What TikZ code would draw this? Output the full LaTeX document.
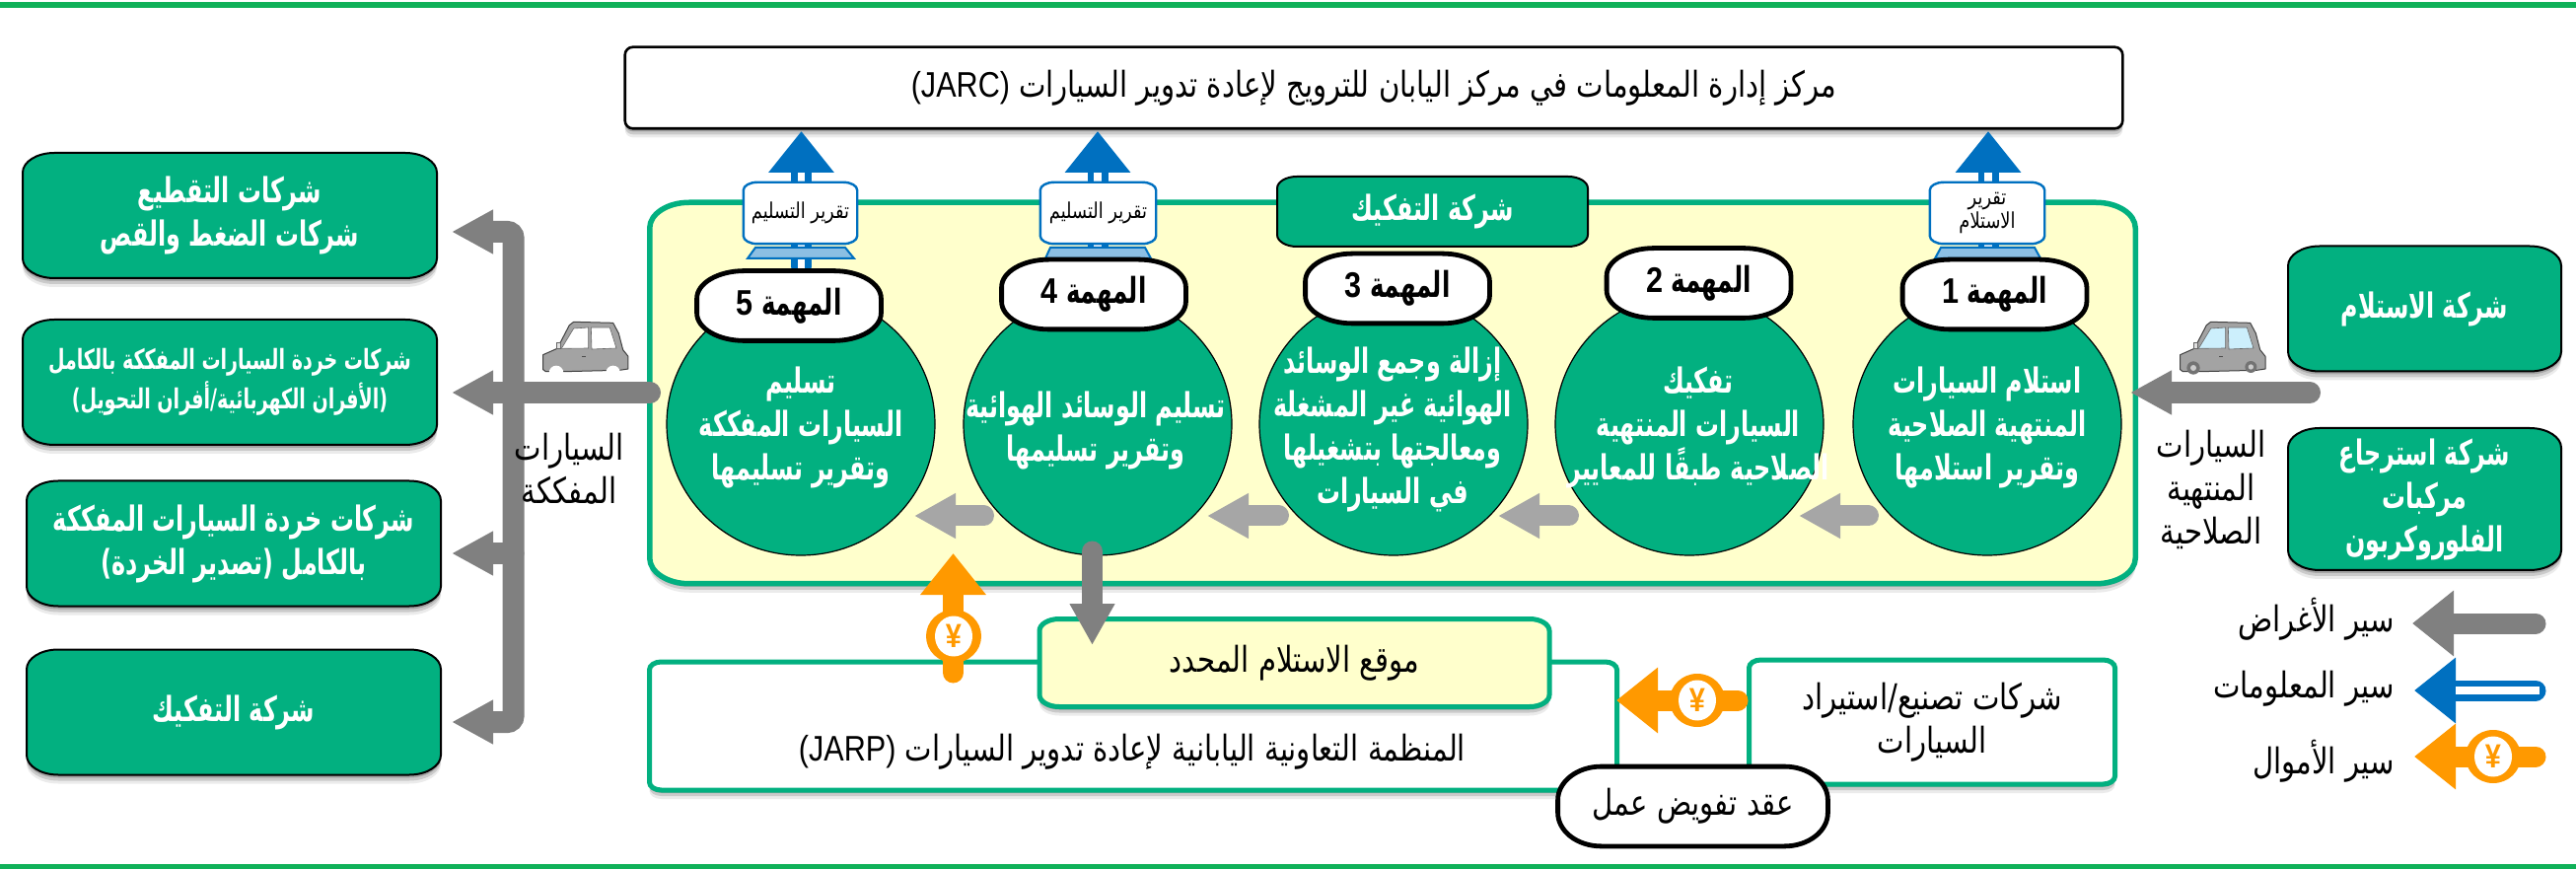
\documentclass[tikz,border=0pt]{standalone}
\usepackage{fontspec}
\usetikzlibrary{arrows.meta,shapes.geometric,shadows}
\TeXXeTstate=1
\newfontfamily\arr[Script=Arabic,FakeStretch=0.81]{DejaVu Sans}
\newfontfamily\arb[Script=Arabic,FakeStretch=0.68]{DejaVu Sans Bold}
\newfontfamily\latr[FakeStretch=0.85]{Liberation Sans}
\newfontfamily\latb[FakeStretch=0.85]{Liberation Sans Bold}
\newcommand\rtl[1]{\beginR #1\endR}
\definecolor{gfill}{HTML}{02B080}
\definecolor{topline}{HTML}{10B159}
\definecolor{pale}{HTML}{FFFFCC}
\definecolor{flowblue}{HTML}{0070C0}
\definecolor{flowor}{HTML}{FF9900}
\definecolor{flowgray}{HTML}{808080}
\definecolor{flowlight}{HTML}{A6A6A6}
\newdimen\ebrx \newdimen\ebry \newdimen\ebL \newdimen\ebR \newdimen\ebT \newdimen\ebB
\makeatletter
\pgfdeclareshape{ebox}{
  \inheritsavedanchors[from=rectangle]
  \inheritanchorborder[from=rectangle]
  \inheritanchor[from=rectangle]{center}
  \inheritanchor[from=rectangle]{mid}
  \inheritanchor[from=rectangle]{base}
  \inheritanchor[from=rectangle]{north}
  \inheritanchor[from=rectangle]{south}
  \inheritanchor[from=rectangle]{east}
  \inheritanchor[from=rectangle]{west}
  \inheritanchor[from=rectangle]{north east}
  \inheritanchor[from=rectangle]{north west}
  \inheritanchor[from=rectangle]{south east}
  \inheritanchor[from=rectangle]{south west}
  \backgroundpath{
    \southwest \ebL=\pgf@x \ebB=\pgf@y
    \northeast \ebR=\pgf@x \ebT=\pgf@y
    \pgfpathmoveto{\pgfqpoint{\dimexpr\ebL+\ebrx}{\ebB}}
    \pgfpathlineto{\pgfqpoint{\dimexpr\ebR-\ebrx}{\ebB}}
    \pgfpathcurveto{\pgfqpoint{\dimexpr\ebR-0.4477\ebrx}{\ebB}}{\pgfqpoint{\ebR}{\dimexpr\ebB+0.4477\ebry}}{\pgfqpoint{\ebR}{\dimexpr\ebB+\ebry}}
    \pgfpathlineto{\pgfqpoint{\ebR}{\dimexpr\ebT-\ebry}}
    \pgfpathcurveto{\pgfqpoint{\ebR}{\dimexpr\ebT-0.4477\ebry}}{\pgfqpoint{\dimexpr\ebR-0.4477\ebrx}{\ebT}}{\pgfqpoint{\dimexpr\ebR-\ebrx}{\ebT}}
    \pgfpathlineto{\pgfqpoint{\dimexpr\ebL+\ebrx}{\ebT}}
    \pgfpathcurveto{\pgfqpoint{\dimexpr\ebL+0.4477\ebrx}{\ebT}}{\pgfqpoint{\ebL}{\dimexpr\ebT-0.4477\ebry}}{\pgfqpoint{\ebL}{\dimexpr\ebT-\ebry}}
    \pgfpathlineto{\pgfqpoint{\ebL}{\dimexpr\ebB+\ebry}}
    \pgfpathcurveto{\pgfqpoint{\ebL}{\dimexpr\ebB+0.4477\ebry}}{\pgfqpoint{\dimexpr\ebL+0.4477\ebrx}{\ebB}}{\pgfqpoint{\dimexpr\ebL+\ebrx}{\ebB}}
    \pgfpathclose
  }
}
\makeatother
\tikzset{
  ec/.code 2 args={\ebrx=#1pt \ebry=#2pt \pgfkeysalso{shape=ebox}},
  sh/.style={general shadow={shadow xshift=0pt,shadow yshift=-1.5pt,fill=black,opacity=.18},
             general shadow={shadow xshift=0pt,shadow yshift=-3pt,fill=black,opacity=.14},
             general shadow={shadow xshift=0pt,shadow yshift=-4.5pt,fill=black,opacity=.08}},
  wbig/.style={font=\fontsize{17.5}{22}\arb,text=white,align=center,inner sep=0pt},
  blk/.style={font=\fontsize{18}{22}\arr,text=black,align=center},
  gboxplain/.style={draw=black,line width=1pt,fill=gfill,ec={16}{10},inner sep=0pt,wbig,minimum width=209pt,minimum height=62.5pt},
  gbox/.style={gboxplain,sh},
  wbox/.style={draw=gfill,line width=2.5pt,fill=white,ec={6}{4},sh,inner sep=0pt,blk},
  disc/.style={ellipse,draw=black,line width=.6pt,fill=gfill,minimum width=136pt,minimum height=133pt,inner sep=0pt},
  tasklabel/.style={draw=black,line width=2.4pt,fill=white,ec={24}{14},minimum width=91pt,minimum height=33pt,inner sep=0pt,font=\fontsize{18}{20}\arb,text=black},
  report/.style={draw=flowblue,line width=1.2pt,fill=white,ec={7}{4},minimum height=30pt,inner sep=0pt,font=\fontsize{11}{12}\arr,align=center},
  stand/.style={draw=flowblue,line width=1pt,fill=flowblue!45},
  flow/.style={draw=flowgray,line width=11pt,line cap=round,-{Triangle[length=21pt,width=21pt]}},
  bigflow/.style={draw=flowgray,line width=10.5pt,line cap=round,-{Triangle[length=21pt,width=32pt]}},
  lightflow/.style={draw=flowlight,line width=10.5pt,line cap=round,-{Triangle[length=21pt,width=21.5pt]}},
  infoflow/.style={draw=flowblue,line width=10.5pt,line cap=round,-{Triangle[length=21pt,width=32pt]},
     postaction={draw=white,line width=3.8pt,line cap=butt,-,shorten >=21pt,shorten <=-6pt}},
  infolegend/.style={draw=flowblue,line width=10.5pt,line cap=round,-{Triangle[length=21pt,width=32pt]},
     postaction={draw=white,line width=4pt,line cap=butt,-,shorten >=21pt,shorten <=-2pt}},
  moneyflow/.style={draw=flowor,line width=10.5pt,line cap=round,-{Triangle[length=21pt,width=32pt]}},
  coinout/.style={ellipse,fill=flowor,minimum width=28pt,minimum height=27pt,inner sep=0pt},
  coinin/.style={ellipse,fill=white,minimum width=19pt,minimum height=20.5pt,inner sep=0pt,text=flowor,font=\fontsize{17}{17}\latb},
  side/.style={font=\fontsize{18}{22}\arr,text=black,align=center,inner sep=0pt},
  legendtext/.style={font=\fontsize{18}{20}\arr,text=black,anchor=east,inner sep=0pt},
}
\newcommand\carshape[3]{%
  \draw[draw=black!75,line width=.5pt,fill=black!36,line join=round]
    (32,170) -- (32,125) -- (75,106) -- (112,35) -- (125,25) -- (245,28) -- (262,60) -- (275,110) -- (291,130) -- (291,168) -- (265,172)
    -- (100,176) -- (40,176) -- cycle;
  \fill[fill=#1,draw=black!60,line width=.3pt] (88,106) -- (125,45) -- (170,42) -- (170,105) -- cycle;
  \fill[fill=#1,draw=black!60,line width=.3pt] (178,42) -- (235,42) -- (255,105) -- (180,108) -- cycle;
  \draw[black!70,line width=.5pt] (150,132) -- (162,132);
  \fill[fill=black!12,draw=black!60,line width=.4pt] (72,88) -- (84,88) -- (84,106) -- (72,106) -- cycle;
  #2
  #3
}
\begin{document}
\begin{tikzpicture}[x=0.5pt,y=-0.5pt]
\useasboundingbox (0,0) rectangle (2612,881);
\fill[topline] (0,2) rectangle (2612,8);
\fill[topline] (0,876) rectangle (2612,881);

% JARC
\node[draw=black,line width=1.3pt,fill=white,ec={4}{4},sh,inner sep=0pt,minimum width=758pt,minimum height=40pt,blk] (jarc) at (1393,89)
  {\rtl{مركز إدارة المعلومات في مركز اليابان للترويج لإعادة تدوير السيارات {\latr\beginL(JARC)\endL}}};

% panel
\node[draw=gfill,line width=2.75pt,fill=pale,ec={20}{13},sh,inner sep=0pt,minimum width=750.5pt,minimum height=190.5pt] (panel) at (1412,398.5) {};

% discs
\node[disc] (c5) at (812,430) {};
\node[disc] (c4) at (1113,430) {};
\node[disc] (c3) at (1413,430) {};
\node[disc] (c2) at (1713,430) {};
\node[disc] (c1) at (2015,430) {};

\coordinate (i5) at (812.5,133);
\coordinate (i4) at (1113,133);
\coordinate (i1) at (2016,133);

% information arrows
\draw[infoflow] (812.5,270) -- (i5);
\draw[infoflow] (1113,270) -- (i4);
\draw[infoflow] (2016,270) -- (i1);
\draw[stand] (766,251) -- (857,251) -- (866,262) -- (758,262) -- cycle;
\draw[stand] (1065,251) -- (1161,251) -- (1167,262) -- (1060,262) -- cycle;
\draw[stand] (1968,251) -- (2063,251) -- (2069,262) -- (1962,262) -- cycle;
\node[report,minimum width=56.5pt] (r5) at (811.5,216) {\rtl{تقرير التسليم}};
\node[report,minimum width=57.5pt] (r4) at (1113.5,216) {\rtl{تقرير التسليم}};
\node[report,minimum width=57pt] (r1) at (2015,216) {\rtl{تقرير}\\\rtl{الاستلام}};

% company tag
\node[gboxplain,ec={10}{6},minimum width=156.5pt,minimum height=34.5pt] (tag) at (1452.5,214.5) {\rtl{شركة التفكيك}};

% task labels
\node[tasklabel] (m5) at (800,310) {\rtl{المهمة {\latb\beginL 5\endL}}};
\node[tasklabel] (m4) at (1109,298.5) {\rtl{المهمة {\latb\beginL 4\endL}}};
\node[tasklabel] (m3) at (1417,292.5) {\rtl{المهمة {\latb\beginL 3\endL}}};
\node[tasklabel] (m2) at (1722.5,287) {\rtl{المهمة {\latb\beginL 2\endL}}};
\node[tasklabel] (m1) at (2022.5,298.5) {\rtl{المهمة {\latb\beginL 1\endL}}};

% disc texts
\node[wbig] (t1) at (2015,433) {\rtl{استلام السيارات}\\\rtl{المنتهية الصلاحية}\\\rtl{وتقرير استلامها}};
\node[wbig] (t2) at (1722,433) {\rtl{تفكيك}\\\rtl{السيارات المنتهية}\\\rtl{الصلاحية طبقًا للمعايير}};
\node[wbig] (t3) at (1412,435) {\rtl{إزالة وجمع الوسائد}\\\rtl{الهوائية غير المشغلة}\\\rtl{ومعالجتها بتشغيلها}\\\rtl{في السيارات}};
\node[wbig] (t4) at (1111,436) {\rtl{تسليم الوسائد الهوائية}\\\rtl{وتقرير تسليمها}};
\node[wbig] (t5) at (812,433) {\rtl{تسليم}\\\rtl{السيارات المفككة}\\\rtl{وتقرير تسليمها}};

% flows between tasks
\draw[lightflow] (997.5,523) -- (927,523);
\draw[lightflow] (1296.5,523) -- (1224,523);
\draw[lightflow] (1590.5,523) -- (1519,523);
\draw[lightflow] (1894.5,523) -- (1824,523);

% left boxes
\node[gbox] (l1) at (233,218.5) {\rtl{شركات التقطيع}\\\rtl{شركات الضغط والقص}};
\node[gbox,font=\fontsize{14}{20}\arb] (l2) at (233,387.5) {\rtl{شركات خردة السيارات المفككة بالكامل}\\\rtl{(الأفران الكهربائية/أفران التحويل)}};
\node[gbox] (l3) at (237,551) {\rtl{شركات خردة السيارات المفككة}\\\rtl{بالكامل (تصدير الخردة)}};
\node[gbox] (l4) at (237,722) {\rtl{شركة التفكيك}};

% right boxes
\node[gbox,minimum width=137.5pt] (k1) at (2458.5,313) {\rtl{شركة الاستلام}};
\node[gbox,minimum width=137.5pt,minimum height=71pt] (k2) at (2458.5,506) {\rtl{شركة استرجاع}\\\rtl{مركبات}\\\rtl{الفلوروكربون}};

% trunk of dismantled vehicles
\coordinate (tr1) at (458,235);
\coordinate (tr2) at (458,398);
\coordinate (tr3) at (458,561);
\coordinate (tr4) at (458,732);
\coordinate (trunk) at (520.5,398);
\draw[flow,rounded corners=3pt] (trunk) |- (tr1);
\draw[flow,rounded corners=3pt] (trunk) |- (tr4);
\draw[flow] (520.5,561) -- (tr3);
\draw[flow] (659,398) -- (tr2);
\coordinate (inTip) at (2160,398);
\draw[flow] (2342,398) -- (inTip);

% cars
\begin{scope}[shift={(540,318)},scale=0.3333]
\carshape{white}{\fill[white] (72,180) circle (22);\fill[white] (245,180) circle (22);}{}
\end{scope}
\begin{scope}[shift={(2200,318)},scale=0.3333]
\carshape{cyan!20}{\fill[black!55] (72,165) circle (20);\fill[white!80!black] (72,165) circle (9);\fill[black!55] (247,162) circle (18);\fill[white!80!black] (247,162) circle (8);}{}
\end{scope}

\node[side] (s1) at (577,475) {\rtl{السيارات}\\\rtl{المفككة}};
\node[side] (s2) at (2242,496) {\rtl{السيارات}\\\rtl{المنتهية}\\\rtl{الصلاحية}};

% JARP
\node[wbox,minimum width=488pt,minimum height=62.5pt] (jarp) at (1149,736) {};
\node[blk,inner sep=0pt] (jarpt) at (1148,762) {\rtl{المنظمة التعاونية اليابانية لإعادة تدوير السيارات {\latr\beginL(JARP)\endL}}};
\node[wbox,fill=pale,ec={10}{6},minimum width=256pt,minimum height=42pt] (site) at (1312.5,672) {\rtl{موقع الاستلام المحدد}};
\node[wbox,minimum width=183pt,minimum height=60.5pt] (maker) at (1959,732) {\rtl{شركات تصنيع/استيراد}\\\rtl{السيارات}};
\node[draw=black,line width=2.4pt,fill=white,ec={22}{17},minimum width=134.5pt,minimum height=38pt,inner sep=0pt,blk] (pill) at (1716.5,817.5) {\rtl{عقد تفويض عمل}};

% goods into site
\coordinate (siteTip) at (1107.5,654);
\draw[flowgray,line width=10.5pt,line cap=round,-{Triangle[length=21pt,width=21.5pt]}] (1107.5,559) -- (siteTip);

% money up
\coordinate (upTip) at (966.5,561);
\draw[moneyflow] (966.5,682) -- (upTip);
\node[coinout] (cu) at (967,645) {};
\node[coinin] (cui) at (967,645) {¥};

% money left
\coordinate (leftTip) at (1639,710);
\draw[moneyflow] (1762,710) -- (leftTip);
\node[coinout] (cl) at (1721,710) {};
\node[coinin] (cli) at (1721,710) {¥};

% legend
\coordinate (lg1) at (2446,632);
\coordinate (lg2) at (2448,700);
\coordinate (lg3) at (2448,767);
\draw[bigflow] (2571,632) -- (lg1);
\draw[infolegend] (2571,700) -- (lg2);
\draw[moneyflow] (2571,767) -- (lg3);
\node[coinout] (cg) at (2528,767) {};
\node[coinin] (cgi) at (2528,767) {¥};
\node[legendtext] (g1) at (2428,628) {\rtl{سير الأغراض}};
\node[legendtext] (g2) at (2428,698) {\rtl{سير المعلومات}};
\node[legendtext] (g3) at (2428,772) {\rtl{سير الأموال}};
\end{tikzpicture}
\end{document}
